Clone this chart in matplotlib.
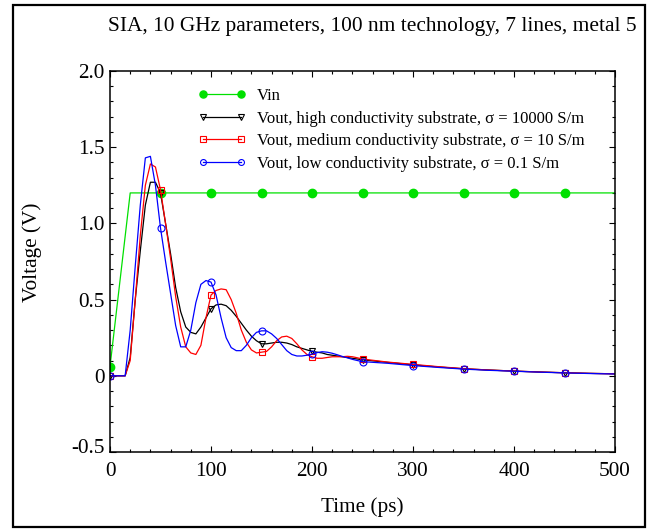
import numpy as np
import matplotlib
matplotlib.use("Agg")
import matplotlib.pyplot as plt
from matplotlib.patches import Rectangle
from matplotlib.transforms import ScaledTranslation

plt.rcParams['font.family'] = ['Liberation Serif', 'DejaVu Serif']
plt.rcParams['mathtext.fontset'] = 'stix'

# ---------------- data ----------------
title = "SIA, 10 GHz parameters, 100 nm technology, 7 lines, metal 5"
x_label = "Time (ps)"
y_label = "Voltage (V)"

labels = ["Vin",
          "Vout, high conductivity substrate, \u03c3 = 10000 S/m",
          "Vout, medium conductivity substrate, \u03c3 = 10 S/m",
          "Vout, low conductivity substrate, \u03c3 = 0.1 S/m"]

marker_times = [0, 50, 100, 150, 200, 250, 300, 350, 400, 450]

vin_t = [0, 20, 50, 100, 150, 200, 250, 300, 350, 400, 450, 500]
vin_v = [0.06, 1.2, 1.2, 1.2, 1.2, 1.2, 1.2, 1.2, 1.2, 1.2, 1.2, 1.2]

t = [0, 5, 10, 15, 20, 25, 30, 35, 40, 45,
     50, 55, 60, 65, 70, 75, 80, 85, 90, 95,
     100, 105, 110, 115, 120, 125, 130, 135, 140, 145,
     150, 155, 160, 165, 170, 175, 180, 185, 190, 195,
     200, 205, 210, 215, 220, 225, 230, 235, 240, 245,
     250, 275, 300, 325, 350, 375, 400, 425, 450, 475, 500]

v_high = [0, 0, 0, 0, 0.12, 0.5, 0.82, 1.12, 1.27, 1.27,
          1.2, 1.0, 0.8, 0.58, 0.42, 0.32, 0.285, 0.275, 0.32, 0.38,
          0.44, 0.465, 0.47, 0.46, 0.43, 0.39, 0.345, 0.30, 0.26, 0.23,
          0.21, 0.21, 0.215, 0.22, 0.22, 0.215, 0.205, 0.19, 0.18, 0.17,
          0.16, 0.155, 0.15, 0.14, 0.135, 0.13, 0.125, 0.12, 0.115, 0.11,
          0.105, 0.088, 0.072, 0.058, 0.046, 0.038, 0.031, 0.025, 0.02, 0.016, 0.013]

v_med = [0, 0, 0, 0, 0.1, 0.5, 0.92, 1.25, 1.39, 1.37,
         1.22, 1.0, 0.77, 0.52, 0.32, 0.19, 0.15, 0.14, 0.2, 0.38,
         0.53, 0.56, 0.57, 0.565, 0.5, 0.41, 0.3, 0.22, 0.17, 0.15,
         0.155, 0.16, 0.19, 0.23, 0.255, 0.26, 0.245, 0.21, 0.17, 0.14,
         0.125, 0.115, 0.115, 0.12, 0.125, 0.125, 0.125, 0.128, 0.125, 0.118,
         0.11, 0.09, 0.075, 0.06, 0.047, 0.038, 0.031, 0.025, 0.02, 0.016, 0.013]

v_low = [0, 0, 0, 0, 0.3, 0.72, 1.12, 1.43, 1.44, 1.25,
         0.97, 0.75, 0.54, 0.33, 0.19, 0.19, 0.3, 0.48, 0.6, 0.625,
         0.615, 0.53, 0.38, 0.25, 0.185, 0.165, 0.165, 0.2, 0.25, 0.285,
         0.295, 0.295, 0.275, 0.245, 0.205, 0.165, 0.14, 0.13, 0.13, 0.135,
         0.142, 0.152, 0.158, 0.155, 0.148, 0.138, 0.127, 0.118, 0.108, 0.1,
         0.093, 0.082, 0.067, 0.055, 0.044, 0.036, 0.03, 0.024, 0.019, 0.015, 0.012]

x_ticks = [0, 100, 200, 300, 400, 500]
y_ticks = [-0.5, 0, 0.5, 1.0, 1.5, 2.0]
y_ticklabels = ["-0.5", "0", "0.5", "1.0", "1.5", "2.0"]

# ---------------- figure ----------------
W, H = 652, 532
fig = plt.figure(figsize=(W / 100, H / 100), dpi=100)
ax = fig.add_axes([110 / W, 1 - 452 / H, (615 - 110) / W, (452 - 71) / H])

green = '#00e000'
ax.plot(vin_t, vin_v, color=green, lw=0.9, marker='o', ms=6, mfc=green, mec=green,
        markevery=list(np.isin(vin_t, marker_times)), label=labels[0])

mask = list(np.isin(t, marker_times))
ax.plot(t, v_high, color='black', lw=0.9, marker='v', ms=5, mfc='none', mec='black',
        mew=0.8, markevery=mask, label=labels[1])
ax.plot(t, v_med, color='#ff0000', lw=0.9, marker='s', ms=5, mfc='none', mec='#ff0000',
        mew=0.8, markevery=mask, label=labels[2])
ax.plot(t, v_low, color='#0000ff', lw=0.9, marker='o', ms=5, mfc='none', mec='#0000ff',
        mew=0.8, markevery=mask, label=labels[3])

ax.set_xlim(0, 500)
ax.set_ylim(-0.5, 2.0)
ax.set_xticks(x_ticks)
ax.set_xticklabels([str(v) for v in x_ticks])
ax.set_yticks(y_ticks)
ax.set_yticklabels(y_ticklabels)
ax.set_xticks(np.arange(0, 501, 20), minor=True)
ax.set_yticks(np.arange(-0.5, 2.01, 0.1), minor=True)
ax.tick_params(which='both', direction='in', top=True, right=True, labelsize=15.3, width=0.8)
ax.tick_params(which='major', length=4)
ax.tick_params(axis='y', which='major', pad=4)
ax.tick_params(axis='x', which='major', pad=7)
ax.tick_params(which='minor', length=2.5)
for s in ax.spines.values():
    s.set_linewidth(1.1)

# raise the -0.5 label slightly as in reference
lab = ax.get_yticklabels()[0]
lab.set_transform(lab.get_transform() + ScaledTranslation(0, 6 / 100, fig.dpi_scale_trans))

leg = ax.legend(loc='upper left', bbox_to_anchor=((198 - 110) / 505, 1 - (88 - 71) / 381),
                frameon=False, fontsize=12, numpoints=2, handlelength=2.9,
                handletextpad=0.62, labelspacing=0.4, borderpad=0, borderaxespad=0,
                markerscale=0.85)

fig.text(637 / W, 1 - 27 / H, title, ha='right', va='center', fontsize=15.4)
fig.text(362 / W, 1 - 507 / H, x_label, ha='center', va='center', fontsize=15.3)
fig.text(32 / W, 1 - 252 / H, y_label, ha='center', va='center', rotation=90, fontsize=15.3)

fig.patches.append(Rectangle((13 / W, 5 / H), (645 - 13) / W, (527 - 5) / H,
                             transform=fig.transFigure, fill=False, ec='black', lw=1.6))

fig.savefig("out.png", dpi=100)
